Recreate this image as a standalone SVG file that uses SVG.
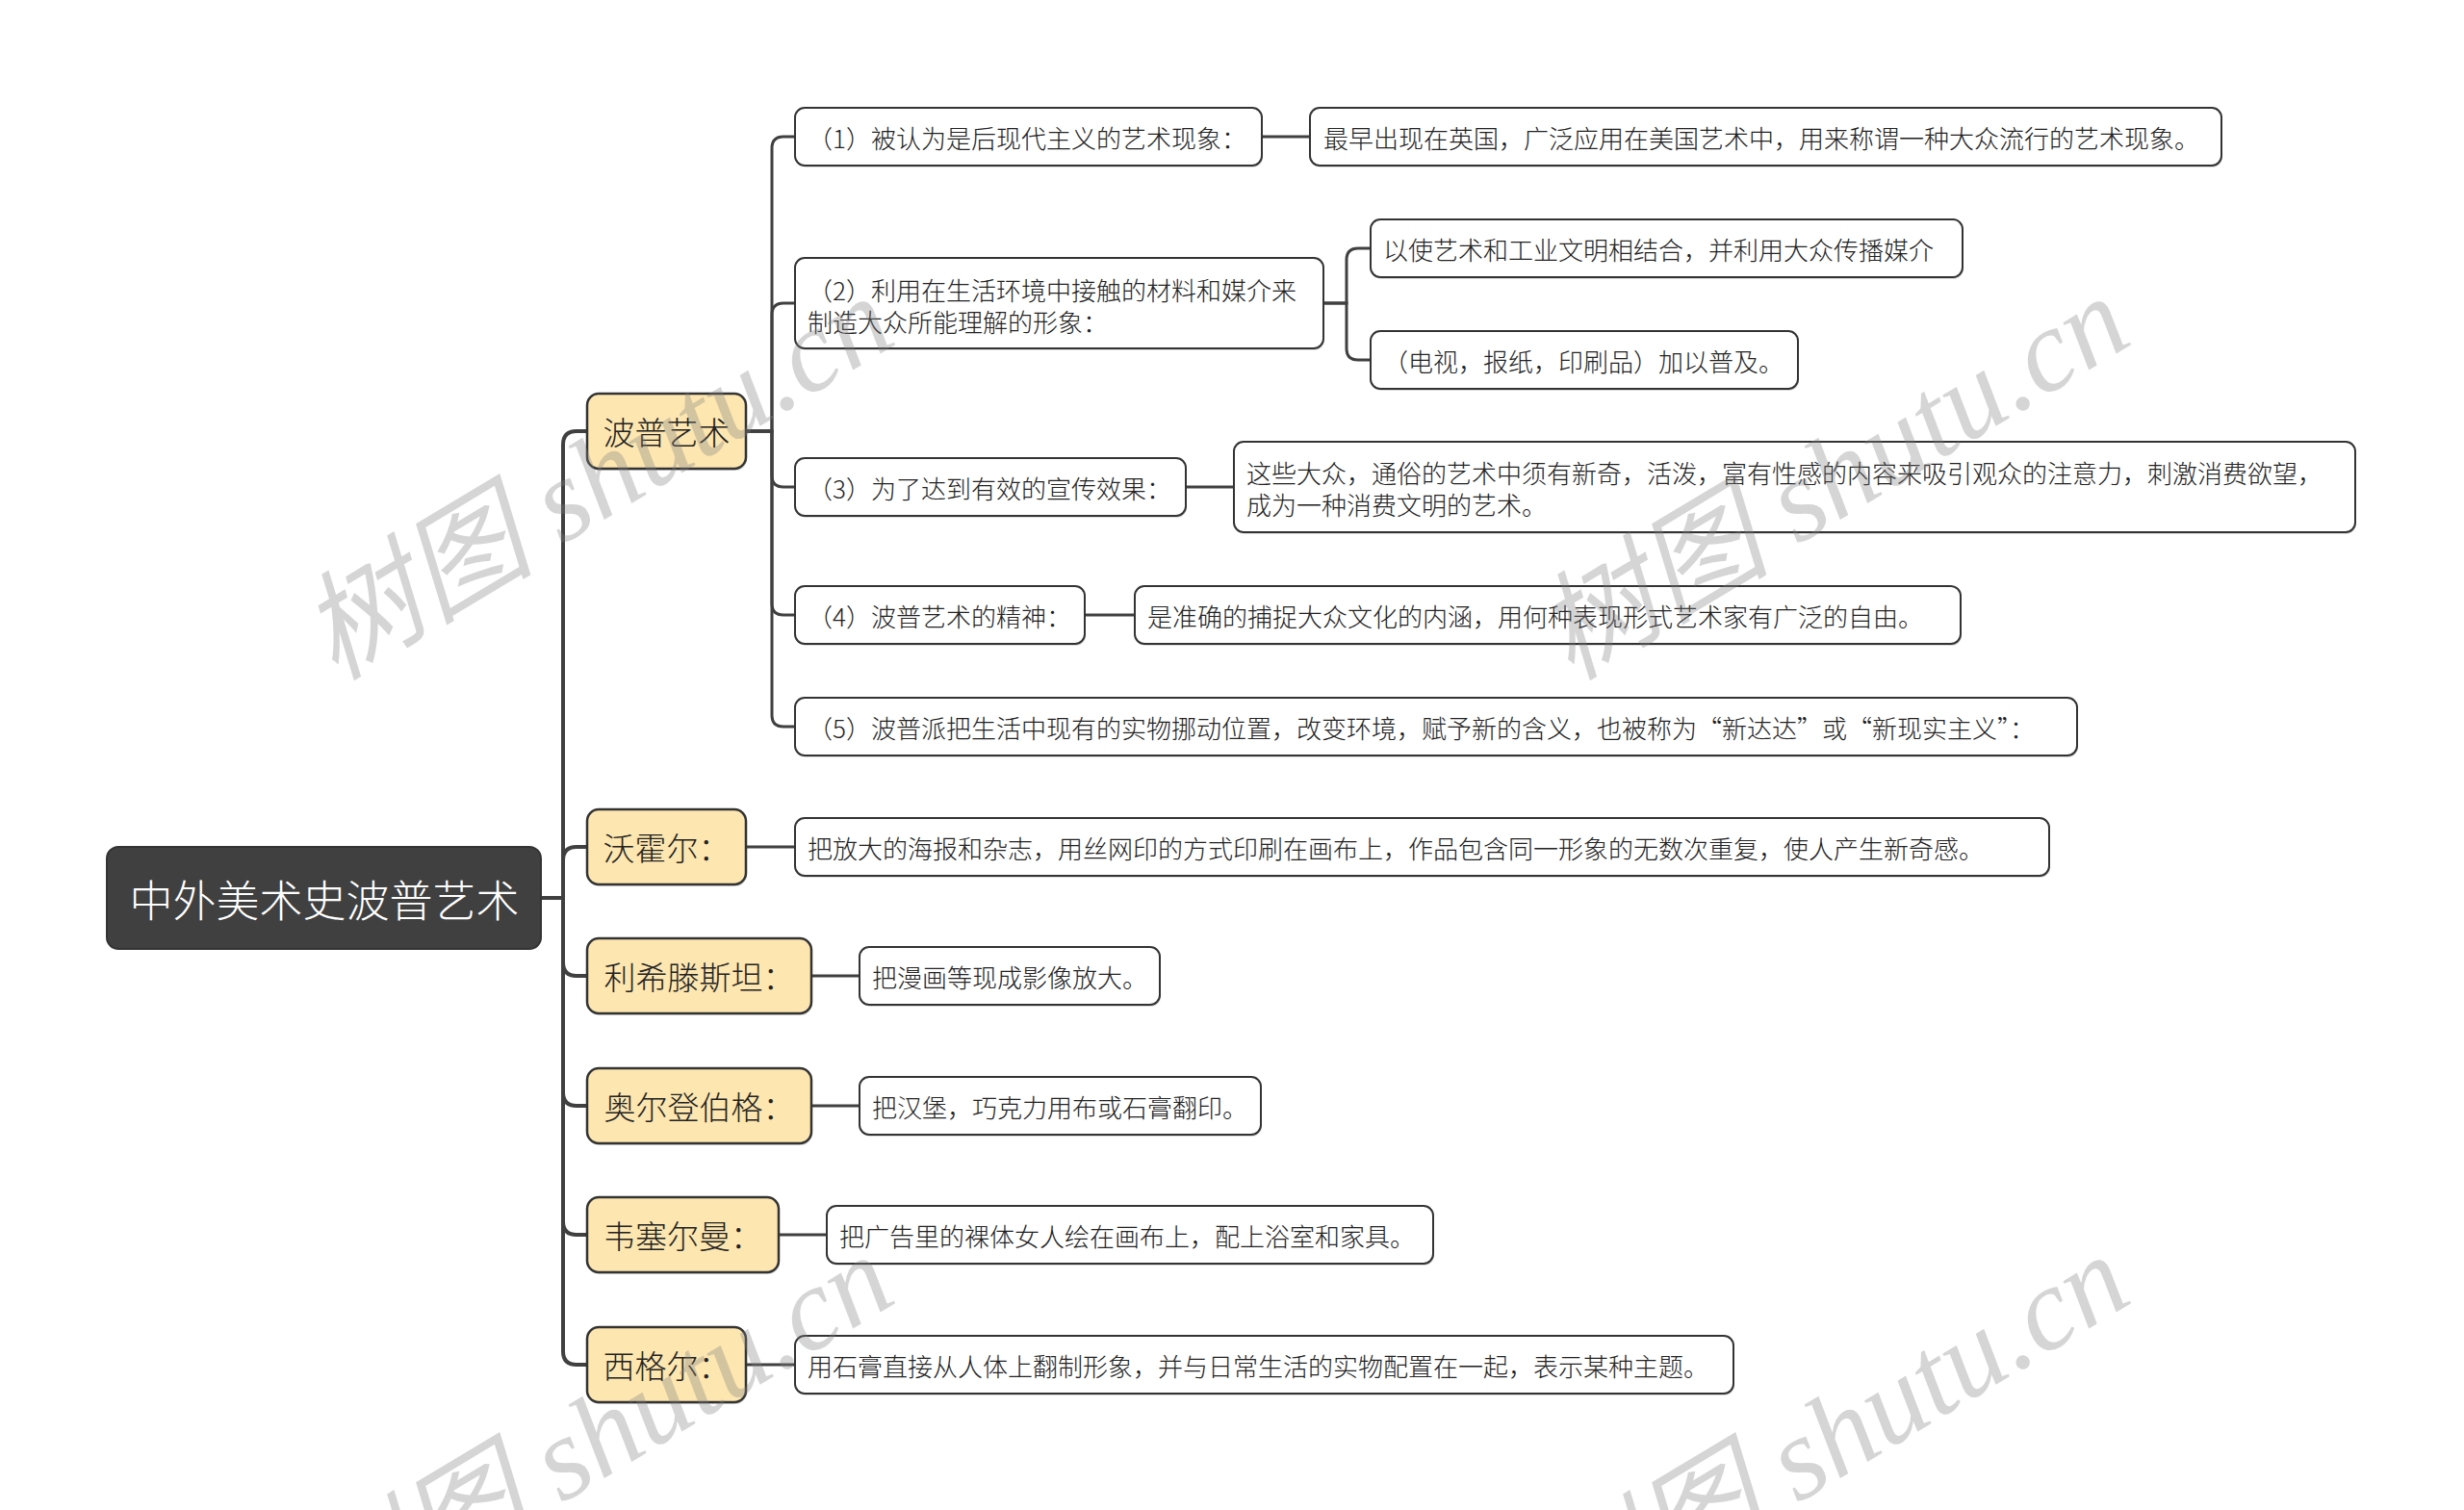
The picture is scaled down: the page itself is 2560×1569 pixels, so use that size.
<svg xmlns="http://www.w3.org/2000/svg" width="2560" height="1569" viewBox="0 0 2560 1569">
<style>
.root rect{fill:#404040;stroke:#333;stroke-width:2}
.l1 rect.b{fill:#FDE6B0;stroke:#333;stroke-width:2.5}
.l2 rect.b{fill:#fff;stroke:#333;stroke-width:2}
rect.s{fill:#999;fill-opacity:.35;stroke:none}
text{font-family:"Noto Sans CJK SC","Noto Sans",sans-serif;font-weight:300;dominant-baseline:central}
.root text{fill:#fff;font-size:45px;text-anchor:middle}
.l1 text{fill:#222;font-size:33px;text-anchor:middle}
.l2 text{fill:#222;font-size:26px}
.conn path{fill:none;stroke:#404040;stroke-linecap:round}
.trunk{stroke-width:4}
.br{stroke-width:3}
.wm{font-family:"Liberation Serif","Noto Sans CJK SC",serif;font-style:italic;font-weight:400;font-size:122px;fill:#808080;fill-opacity:.33;dominant-baseline:alphabetic}
</style>
<rect width="2560" height="1569" fill="#fff"/>
<g id="connectors" class="conn">
<path class="trunk" d="M562 933 H585 V462 Q585 448 599 448 H610"/>
<path class="trunk" d="M562 933 H585 V894 Q585 880 599 880 H610"/>
<path class="trunk" d="M562 933 H585 V1000 Q585 1014 599 1014 H610"/>
<path class="trunk" d="M562 933 H585 V1135 Q585 1149 599 1149 H610"/>
<path class="trunk" d="M562 933 H585 V1269 Q585 1283 599 1283 H610"/>
<path class="trunk" d="M562 933 H585 V1404 Q585 1418 599 1418 H610"/>
<path class="br" d="M775 448 H802 V154 Q802 142 814 142 H826"/>
<path class="br" d="M775 448 H802 V327 Q802 315 814 315 H826"/>
<path class="br" d="M775 448 H802 V494 Q802 506 814 506 H826"/>
<path class="br" d="M775 448 H802 V627 Q802 639 814 639 H826"/>
<path class="br" d="M775 448 H802 V743 Q802 755 814 755 H826"/>
<path class="br" d="M1375 315 H1399 V270 Q1399 258 1411 258 H1424"/>
<path class="br" d="M1375 315 H1399 V362 Q1399 374 1411 374 H1424"/>
<path class="br" d="M1311 142 H1361"/>
<path class="br" d="M1232 506 H1282"/>
<path class="br" d="M1127 639 H1179"/>
<path class="br" d="M775 880 H826"/>
<path class="br" d="M843 1014 H893"/>
<path class="br" d="M843 1149 H893"/>
<path class="br" d="M809 1283 H859"/>
<path class="br" d="M775 1418 H826"/>
</g>
<g id="root" class="root"><rect x="111" y="880" width="451" height="106" rx="12"/><text x="337" y="933">中外美术史波普艺术</text></g>
<g id="n-pop" class="l1"><rect class="s" x="611" y="411" width="165" height="78" rx="12"/><rect class="b" x="610" y="409" width="165" height="78" rx="12"/><text x="692.5" y="448">波普艺术</text></g>
<g id="n-warhol" class="l1"><rect class="s" x="611" y="843" width="165" height="78" rx="12"/><rect class="b" x="610" y="841" width="165" height="78" rx="12"/><text x="692.5" y="880">沃霍尔：</text></g>
<g id="n-lichtenstein" class="l1"><rect class="s" x="611" y="977" width="233" height="78" rx="12"/><rect class="b" x="610" y="975" width="233" height="78" rx="12"/><text x="726.5" y="1014">利希滕斯坦：</text></g>
<g id="n-oldenburg" class="l1"><rect class="s" x="611" y="1112" width="233" height="78" rx="12"/><rect class="b" x="610" y="1110" width="233" height="78" rx="12"/><text x="726.5" y="1149">奥尔登伯格：</text></g>
<g id="n-wesselmann" class="l1"><rect class="s" x="611" y="1246" width="199" height="78" rx="12"/><rect class="b" x="610" y="1244" width="199" height="78" rx="12"/><text x="709.5" y="1283">韦塞尔曼：</text></g>
<g id="n-segal" class="l1"><rect class="s" x="611" y="1381" width="165" height="78" rx="12"/><rect class="b" x="610" y="1379" width="165" height="78" rx="12"/><text x="692.5" y="1418">西格尔：</text></g>
<g id="n-p1" class="l2"><rect class="s" x="827" y="114" width="485" height="60" rx="10"/><rect class="b" x="826" y="112" width="485" height="60" rx="10"/><text x="839" y="142">（1）被认为是后现代主义的艺术现象：</text></g>
<g id="n-p1c" class="l2"><rect class="s" x="1362" y="114" width="947" height="60" rx="10"/><rect class="b" x="1361" y="112" width="947" height="60" rx="10"/><text x="1375" y="142">最早出现在英国，广泛应用在美国艺术中，用来称谓一种大众流行的艺术现象。</text></g>
<g id="n-p2" class="l2"><rect class="s" x="827" y="270" width="549" height="94" rx="10"/><rect class="b" x="826" y="268" width="549" height="94" rx="10"/><text x="839" y="300">（2）利用在生活环境中接触的材料和媒介来</text><text x="839" y="333">制造大众所能理解的形象：</text></g>
<g id="n-p2a" class="l2"><rect class="s" x="1425" y="230" width="615" height="60" rx="10"/><rect class="b" x="1424" y="228" width="615" height="60" rx="10"/><text x="1437" y="258">以使艺术和工业文明相结合，并利用大众传播媒介</text></g>
<g id="n-p2b" class="l2"><rect class="s" x="1425" y="346" width="444" height="60" rx="10"/><rect class="b" x="1424" y="344" width="444" height="60" rx="10"/><text x="1437" y="374">（电视，报纸，印刷品）加以普及。</text></g>
<g id="n-p3" class="l2"><rect class="s" x="827" y="478" width="406" height="60" rx="10"/><rect class="b" x="826" y="476" width="406" height="60" rx="10"/><text x="839" y="506">（3）为了达到有效的宣传效果：</text></g>
<g id="n-p3c" class="l2"><rect class="s" x="1283" y="461" width="1165" height="94" rx="10"/><rect class="b" x="1282" y="459" width="1165" height="94" rx="10"/><text x="1295" y="490">这些大众，通俗的艺术中须有新奇，活泼，富有性感的内容来吸引观众的注意力，刺激消费欲望，</text><text x="1295" y="523">成为一种消费文明的艺术。</text></g>
<g id="n-p4" class="l2"><rect class="s" x="827" y="611" width="301" height="60" rx="10"/><rect class="b" x="826" y="609" width="301" height="60" rx="10"/><text x="839" y="639">（4）波普艺术的精神：</text></g>
<g id="n-p4c" class="l2"><rect class="s" x="1180" y="611" width="858" height="60" rx="10"/><rect class="b" x="1179" y="609" width="858" height="60" rx="10"/><text x="1192" y="639">是准确的捕捉大众文化的内涵，用何种表现形式艺术家有广泛的自由。</text></g>
<g id="n-p5" class="l2"><rect class="s" x="827" y="727" width="1332" height="60" rx="10"/><rect class="b" x="826" y="725" width="1332" height="60" rx="10"/><text x="839" y="755">（5）波普派把生活中现有的实物挪动位置，改变环境，赋予新的含义，也被称为“新达达”或“新现实主义”：</text></g>
<g id="n-warhol-c" class="l2"><rect class="s" x="827" y="852" width="1303" height="60" rx="10"/><rect class="b" x="826" y="850" width="1303" height="60" rx="10"/><text x="839" y="880">把放大的海报和杂志，用丝网印的方式印刷在画布上，作品包含同一形象的无数次重复，使人产生新奇感。</text></g>
<g id="n-lichtenstein-c" class="l2"><rect class="s" x="894" y="986" width="312" height="60" rx="10"/><rect class="b" x="893" y="984" width="312" height="60" rx="10"/><text x="906" y="1014">把漫画等现成影像放大。</text></g>
<g id="n-oldenburg-c" class="l2"><rect class="s" x="894" y="1121" width="417" height="60" rx="10"/><rect class="b" x="893" y="1119" width="417" height="60" rx="10"/><text x="906" y="1149">把汉堡，巧克力用布或石膏翻印。</text></g>
<g id="n-wesselmann-c" class="l2"><rect class="s" x="860" y="1255" width="630" height="60" rx="10"/><rect class="b" x="859" y="1253" width="630" height="60" rx="10"/><text x="872" y="1283">把广告里的裸体女人绘在画布上，配上浴室和家具。</text></g>
<g id="n-segal-c" class="l2"><rect class="s" x="827" y="1390" width="975" height="60" rx="10"/><rect class="b" x="826" y="1388" width="975" height="60" rx="10"/><text x="839" y="1418">用石膏直接从人体上翻制形象，并与日常生活的实物配置在一起，表示某种主题。</text></g>
<g id="watermark">
<text class="wm" transform="translate(348 708) rotate(-31)">树图 shutu.cn</text>
<text class="wm" transform="translate(1632 708) rotate(-31)">树图 shutu.cn</text>
<text class="wm" transform="translate(348 1704) rotate(-31)">树图 shutu.cn</text>
<text class="wm" transform="translate(1632 1704) rotate(-31)">树图 shutu.cn</text>
</g>
</svg>
